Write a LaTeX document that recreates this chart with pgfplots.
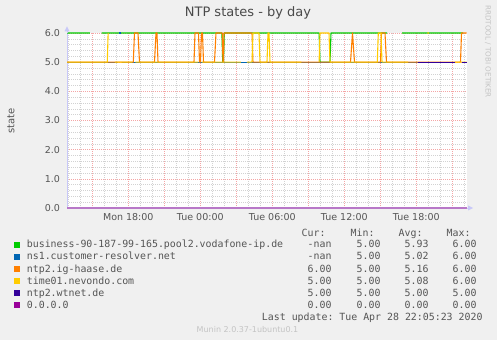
\documentclass[border=0pt]{standalone}
\usepackage{fontspec}
\setmainfont{DejaVu Sans}
\setmonofont{DejaVu Sans Mono}
\usepackage{pgfplots}
\pgfplotsset{compat=1.18}
\definecolor{bgc}{HTML}{F0F0F0}
\definecolor{txtc}{HTML}{555555}
\definecolor{ttlc}{HTML}{4A4A4A}
\definecolor{axc}{HTML}{C8C8F8}
\definecolor{gridr}{HTML}{F4A6A6}
\definecolor{gridg}{HTML}{D2D2D2}
\definecolor{mgreen}{HTML}{00CC00}
\definecolor{mblue}{HTML}{0066B3}
\definecolor{morange}{HTML}{FF8000}
\definecolor{myellow}{HTML}{FFCC00}
\definecolor{mpurple}{HTML}{330099}
\definecolor{mmagenta}{HTML}{990099}
\definecolor{mmagline}{HTML}{B878C8}
\definecolor{faintc}{HTML}{C4C4C4}
\newcommand{\mono}{\ttfamily\fontsize{9.9bp}{11bp}\selectfont}
\begin{document}
\begin{tikzpicture}
\fill[bgc] (0,0) rectangle (497bp,340bp);
\useasboundingbox (0,0) rectangle (497bp,340bp);
\begin{axis}[
 at={(67bp,132bp)}, anchor=south west,
 scale only axis, width=399.5bp, height=175bp,
 xmin=12.892, xmax=46.183, ymin=0, ymax=6,
 axis background/.style={fill=white},
 axis x line*=bottom, axis y line*=left,
 axis line style={draw=axc, line width=0.8bp},
 xtick={18,24,30,36,42},
 xticklabels={Mon 18:00,Tue 00:00,Tue 06:00,Tue 12:00,Tue 18:00},
 minor xtick={13,14,16,17,19,20,22,23,25,26,28,29,31,32,34,35,37,38,40,41,43,44,46},
 extra x ticks={15,21,27,33,39,45},
 extra x tick labels={},
 extra x tick style={grid=major, major grid style={draw=gridr, line width=0.6bp, dash pattern=on 1bp off 1bp}},
 ytick={0,1,...,6},
 yticklabels={0.0,1.0,2.0,3.0,4.0,5.0,6.0},
 minor y tick num=4,
 major tick length=0pt, minor tick length=0pt,
 grid=both,
 major grid style={draw=gridr, line width=0.6bp, dash pattern=on 1bp off 1bp},
 minor grid style={draw=gridg, line width=0.6bp, dash pattern=on 1bp off 1bp},
 tick label style={font=\fontsize{9.5bp}{10bp}\selectfont, text=txtc},
 xticklabel style={yshift=-2bp},
 yticklabel style={xshift=-3.5bp},
 unbounded coords=jump,
 clip=false,
 every axis plot/.append style={line width=1.1bp, line join=round},
]
% business-90-187-99-165.pool2.vodafone-ip.de
\addplot[mgreen] coordinates {(12.892,6) (14.808,6) (15.2,nan) (15.783,6) (25.80,6) (25.87,5) (25.93,5) (26.0,6) (33.90,6) (33.975,5) (34.808,5) (34.891,6) (39.558,6) (40.0,nan) (40.808,6) (45.9,6)};
% ns1.customer-resolver.net
\addplot[mblue] coordinates {(12.892,5) (17.17,5) (17.2,nan) (17.25,6) (17.416,6) (17.45,nan) (17.5,5) (45.0,5)};
% ntp2.ig-haase.de
\addplot[morange] coordinates {(12.892,5) (18.417,5) (18.516,6) (18.808,6) (18.933,5) (20.183,5) (20.308,6) (20.391,6) (20.475,5) (23.475,5) (23.558,6) (23.85,6) (23.933,5) (24.016,5) (24.1,6) (24.183,6) (24.266,5) (25.183,5) (25.308,6) (25.833,6) (25.891,5) (25.93,5) (25.975,6) (28.308,6) (28.391,5) (36.516,5) (36.683,6) (36.85,5) (39.016,5) (39.1,6) (39.391,6) (39.516,5) (45.683,5) (45.766,6) (46.183,6)};
% time01.nevondo.com
\addplot[myellow] coordinates {(12.892,5) (16.25,5) (16.32,6) (16.5,nan) (16.891,5) (18.35,5) (18.45,nan) (18.6,5) (23.83,5) (23.9,nan) (24.1,5) (27.39,5) (27.6,nan) (27.89,5) (28.308,5) (28.391,6) (28.891,6) (28.975,5) (29.558,5) (29.641,6) (29.725,6) (29.808,5) (32.43,5) (33.0,nan) (33.9,5) (33.975,6) (34.725,6) (34.808,5) (38.75,5) (38.833,6) (39.058,6) (39.141,5) (41.308,5) (42.0,nan) (42.93,6) (43.05,6) (44.0,nan) (45.2,5) (46.183,5)};
% ntp2.wtnet.de
\addplot[mpurple] coordinates {(42.1,5) (45.225,5) (45.4,nan) (45.766,5) (46.183,5)};
% 0.0.0.0
\addplot[mmagline] coordinates {(12.892,0) (46.183,0)};
\end{axis}
% axis arrows
\draw[axc, line width=0.8bp] (67bp,307bp) -- (67bp,309bp);
\fill[axc] (67bp,313.5bp) -- (64.5bp,308.5bp) -- (69.5bp,308.5bp) -- cycle;
\draw[axc, line width=0.8bp] (466.5bp,132bp) -- (468bp,132bp);
\fill[axc] (473bp,132bp) -- (468bp,134.5bp) -- (468bp,129.5bp) -- cycle;
% title, labels
\node[text=ttlc, font=\fontsize{13bp}{14bp}\selectfont] at (248bp,326.7bp) {NTP states - by day};
\node[text=txtc, rotate=90, font=\fontsize{10bp}{11bp}\selectfont] at (11bp,219bp) {state};
\node[text=faintc, rotate=-90, anchor=west, inner sep=0pt, font=\fontsize{7.2bp}{8bp}\selectfont] at (488bp,335bp) {RRDTOOL / TOBI OETIKER};
% legend
\begin{scope}[every node/.style={inner sep=0pt, text=txtc, font=\mono}]
\node[anchor=base east] at (325.7bp,103.1bp) {Cur:};
\node[anchor=base east] at (374.7bp,103.1bp) {Min:};
\node[anchor=base east] at (422.7bp,103.1bp) {Avg:};
\node[anchor=base east] at (470.7bp,103.1bp) {Max:};
\fill[mgreen] (14bp,92.0bp) rectangle (20bp,98.0bp);
\node[anchor=base west] at (26.7bp,92.1bp) {business-90-187-99-165.pool2.vodafone-ip.de};
\node[anchor=base east] at (331.7bp,92.1bp) {-nan};
\node[anchor=base east] at (380.7bp,92.1bp) {5.00};
\node[anchor=base east] at (428.7bp,92.1bp) {5.93};
\node[anchor=base east] at (476.7bp,92.1bp) {6.00};
\fill[mblue] (14bp,79.9bp) rectangle (20bp,85.9bp);
\node[anchor=base west] at (26.7bp,80.03bp) {ns1.customer-resolver.net};
\node[anchor=base east] at (331.7bp,80.03bp) {-nan};
\node[anchor=base east] at (380.7bp,80.03bp) {5.00};
\node[anchor=base east] at (428.7bp,80.03bp) {5.02};
\node[anchor=base east] at (476.7bp,80.03bp) {6.00};
\fill[morange] (14bp,67.9bp) rectangle (20bp,73.9bp);
\node[anchor=base west] at (26.7bp,67.96bp) {ntp2.ig-haase.de};
\node[anchor=base east] at (331.7bp,67.96bp) {6.00};
\node[anchor=base east] at (380.7bp,67.96bp) {5.00};
\node[anchor=base east] at (428.7bp,67.96bp) {5.16};
\node[anchor=base east] at (476.7bp,67.96bp) {6.00};
\fill[myellow] (14bp,55.8bp) rectangle (20bp,61.8bp);
\node[anchor=base west] at (26.7bp,55.89bp) {time01.nevondo.com};
\node[anchor=base east] at (331.7bp,55.89bp) {5.00};
\node[anchor=base east] at (380.7bp,55.89bp) {5.00};
\node[anchor=base east] at (428.7bp,55.89bp) {5.08};
\node[anchor=base east] at (476.7bp,55.89bp) {6.00};
\fill[mpurple] (14bp,43.7bp) rectangle (20bp,49.7bp);
\node[anchor=base west] at (26.7bp,43.82bp) {ntp2.wtnet.de};
\node[anchor=base east] at (331.7bp,43.82bp) {5.00};
\node[anchor=base east] at (380.7bp,43.82bp) {5.00};
\node[anchor=base east] at (428.7bp,43.82bp) {5.00};
\node[anchor=base east] at (476.7bp,43.82bp) {5.00};
\fill[mmagenta] (14bp,31.6bp) rectangle (20bp,37.6bp);
\node[anchor=base west] at (26.7bp,31.75bp) {0.0.0.0};
\node[anchor=base east] at (331.7bp,31.75bp) {0.00};
\node[anchor=base east] at (380.7bp,31.75bp) {0.00};
\node[anchor=base east] at (428.7bp,31.75bp) {0.00};
\node[anchor=base east] at (476.7bp,31.75bp) {0.00};
\node[anchor=base east] at (482.7bp,19.68bp) {Last update: Tue Apr 28 22:05:23 2020};
\end{scope}
\node[text=faintc, font=\fontsize{8bp}{9bp}\selectfont] at (247.5bp,10.7bp) {Munin 2.0.37-1ubuntu0.1};
\end{tikzpicture}
\end{document}
